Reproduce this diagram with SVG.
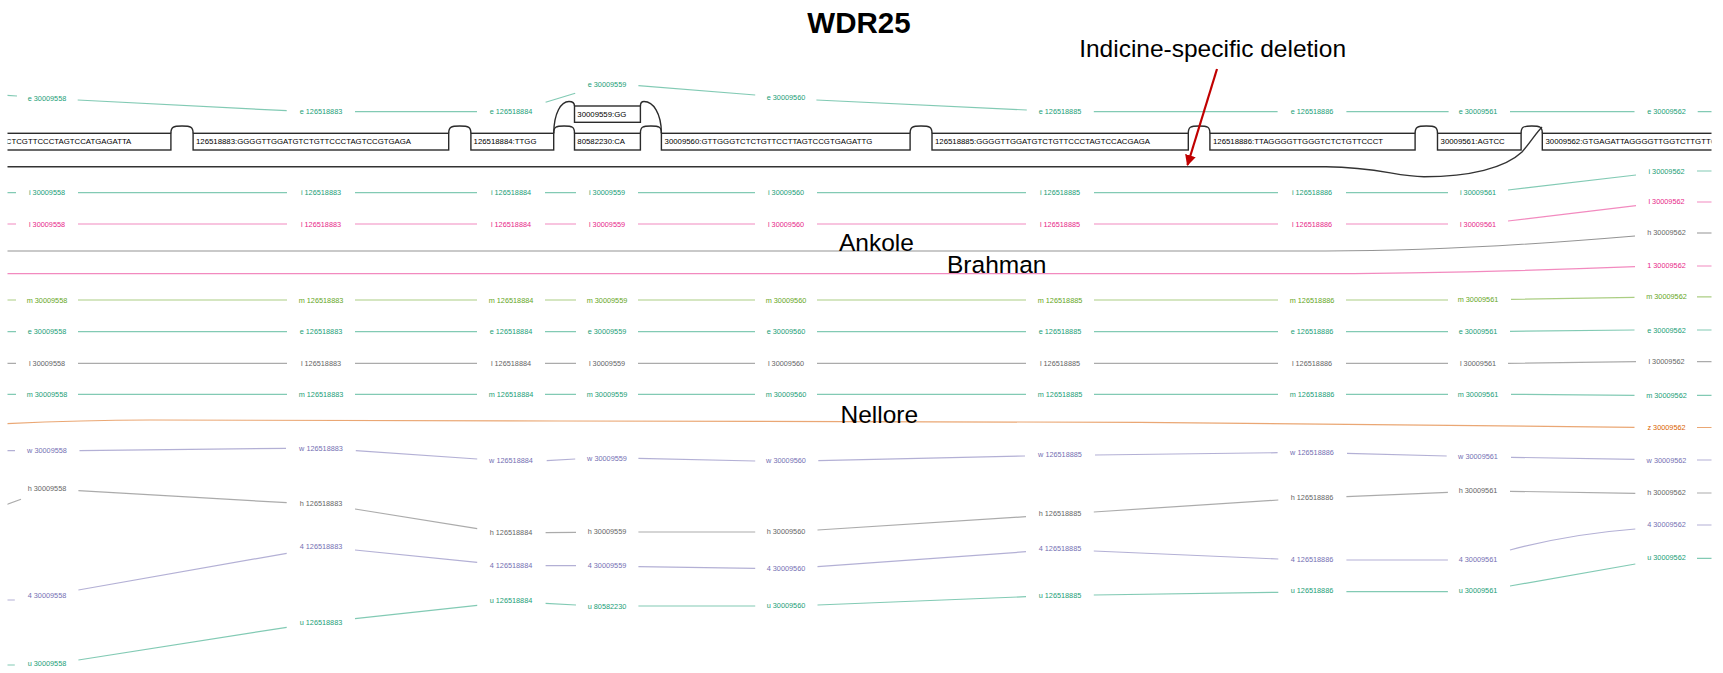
<svg xmlns="http://www.w3.org/2000/svg" width="1723" height="673" viewBox="0 0 1723 673">
<style>
.lb{font-family:"Liberation Sans",Arial,sans-serif;font-size:7.3px;text-anchor:middle}
.sq{font-family:"Liberation Sans",Arial,sans-serif;font-size:7.8px;fill:#000}
.box{fill:#fff;stroke:#2b2b2b;stroke-width:1.4}
.bump{fill:none;stroke:#2b2b2b;stroke-width:1.4}
.trk{fill:none;stroke-width:1.2;stroke-opacity:0.55}
.big{font-family:"Liberation Sans",Arial,sans-serif;font-size:24.5px;fill:#000}
.teal{fill:#1b9e77}.pink{fill:#e7298a}.gray{fill:#666}.olive{fill:#66a61e}.orange{fill:#d95f02}.purple{fill:#7570b3}
.sTeal{stroke:#1b9e77}.sPink{stroke:#e7298a}.sGray{stroke:#666}.sOlive{stroke:#66a61e}.sOrange{stroke:#d95f02}.sPurple{stroke:#7570b3}
</style>
<defs>
<clipPath id="cp"><rect x="7.5" y="0" width="1704" height="673"/></clipPath>
<marker id="ah" viewBox="0 0 10 10" refX="9" refY="5" markerWidth="5" markerHeight="5" orient="auto"><path d="M0 0 L10 5 L0 10 z" fill="#c00000"/></marker>
</defs>
<rect width="1723" height="673" fill="#fff"/>
<g id="title"><text x="859" y="32.5" font-family="Liberation Sans, Arial, sans-serif" font-size="29.5" font-weight="bold" text-anchor="middle">WDR25</text></g>
<g clip-path="url(#cp)">
<g id="connectors">
<path class="trk sTeal" d="M0 94.8 L17 96 M77.7 100 L286.7 110.7 M355 111.7 H477 M545.6 102.3 L575.2 93.3 M638.4 85.7 L755.2 95 M816.4 100 L1026.8 110 M1093.8 111.7 H1277.6 M1346.4 111.7 H1448.6 M1510 111.7 H1634.5 M1697.7 111.7 H1725"/>
<path d="M0 166.7 H1326 C1380 167 1395 176.7 1424 176.7 C1470 176.7 1505 168 1522 152 C1530 143 1536 133 1542 127" fill="none" stroke="#333" stroke-width="1.4"/>
<path class="trk sTeal" d="M0 192.7 H16 M78 192.7 H287 M355 192.7 H477 M545 192.7 H576 M638 192.7 H755 M817 192.7 H1026 M1094 192.7 H1278 M1346 192.7 H1448 M1508 190 L1636 175 M1697 171 H1725"/>
<path class="trk sPink" d="M0 224 H16 M78 224 H287 M355 224 H477 M545 224 H576 M638 224 H755 M817 224 H1026 M1094 224 H1278 M1346 224 H1448 M1508 221 L1636 205.7 M1697 202 H1725"/>
<path class="trk sGray" style="stroke-opacity:0.7;stroke-width:1.1" d="M0 251 H1326 C1420 251 1540 244 1635 236 M1697 233 H1725"/>
<path class="trk sPink" d="M0 273.7 H1300 C1420 273.7 1550 270 1635 266.7 M1697 266 H1725"/>
<path class="trk sOlive" d="M0 300 H16 M78 300 H287 M355 300 H477 M545 300 H576 M638 300 H755 M817 300 H1026 M1094 300 H1278 M1346 300 H1448 M1511 299.3 L1634.5 297.3 M1697 296.8 H1725"/>
<path class="trk sTeal" d="M0 331.7 H16 M78 331.7 H287 M355 331.7 H477 M545 331.7 H576 M638 331.7 H755 M817 331.7 H1026 M1094 331.7 H1278 M1346 331.7 H1448 M1510 331.3 L1634.5 330 M1697 330 H1725"/>
<path class="trk sGray" d="M0 363.3 H16 M78 363.3 H287 M355 363.3 H477 M545 363.3 H576 M638 363.3 H755 M817 363.3 H1026 M1094 363.3 H1278 M1346 363.3 H1448 M1508 363.3 L1636 361.7 M1697 361.7 H1725"/>
<path class="trk sTeal" d="M0 394.3 H16 M78 394.3 H287 M355 394.3 H477 M545 394.3 H576 M638 394.3 H755 M817 394.3 H1026 M1094 394.3 H1278 M1346 394.3 H1448 M1511 394.3 L1634.5 395.3 M1697 395.3 H1725"/>
<path class="trk sOrange" d="M0 424 C40 422 80 420 150 420 L560 421 L1140 422.3 L1634.5 427.3 M1697 427.5 H1725"/>
<path class="trk sPurple" d="M0 450.7 H15 M79.5 450.7 L286 448.3 M355.8 450.7 L477.2 459 M546.7 460.7 L575.2 459 M638.4 458.3 L755.2 461 M818.3 460.7 L1025 456 M1095 455 L1277.6 452.7 M1347 453.3 L1446.7 456 M1511 457.3 L1634.5 459.3 M1697 460 H1725"/>
<path class="trk sGray" d="M0 507 L21 499.3 M78.4 490.7 L286.7 502.7 M355 509 L477.2 528.7 M545.6 532.7 L576 532.3 M638.4 532 L755.2 532 M817.5 530 L1026 516.7 M1093.8 512 L1278.3 500 M1346.4 496.7 L1447.9 492.3 M1510 491.3 L1635.3 493.3 M1697 493 H1725"/>
<path class="trk sPurple" d="M0 600 H14.8 M78.4 590 L286.7 553.3 M355 550 L477.2 562.3 M545.6 565.7 L576 565.7 M638.4 566.7 L755.2 568.3 M817.5 566.7 L1026 551.7 M1093.8 551 L1278.3 559 M1346.4 560 L1447.9 560 M1510 550 Q1570 534 1635.3 529 M1697 525 H1725"/>
<path class="trk sTeal" d="M0 665 H14.8 M78.4 660 L286.7 627.3 M355 618.7 L477.2 605.3 M545.6 603.3 L576 605 M638.4 606 L755.2 606 M817.5 605 L1026 596.7 M1093.8 595 L1278.3 592.3 M1346.4 591.7 L1447.9 591.7 M1510 586 L1635.3 564 M1697 558.3 H1725"/>
</g>
<g id="bumps">
<path class="bump" d="M170.9 133.3 C170.9 127 172.9 126 182 126 C191.1 126 193.1 127 193.1 133.3"/>
<path class="bump" d="M448.7 133.3 C448.7 127 450.7 126 459.8 126 C468.9 126 470.9 127 470.9 133.3"/>
<path class="bump" d="M553.7 133.3 C553.7 127 555.7 126 564.1 126 C572.5 126 574.5 127 574.5 133.3"/>
<path class="bump" d="M640.4 133.3 C640.4 127 642.4 126 650.9 126 C659.4 126 661.4 127 661.4 133.3"/>
<path class="bump" d="M910.1 133.3 C910.1 127 912.1 126 921 126 C930 126 932 127 932 133.3"/>
<path class="bump" d="M1188.3 133.3 C1188.3 127 1190.3 126 1199.1 126 C1207.9 126 1209.9 127 1209.9 133.3"/>
<path class="bump" d="M1415.1 133.3 C1415.1 127 1417.1 126 1426.3 126 C1435.5 126 1437.5 127 1437.5 133.3"/>
<path class="bump" d="M1521.1 133.3 C1521.1 127 1523.1 126 1531.7 126 C1540.3 126 1542.3 127 1542.3 133.3"/>
<path class="bump" d="M553.7 133.3 C554 113 561 101.5 569 101.5 C572.5 101.5 574.5 103 574.5 106"/>
<path class="bump" d="M640.4 106 C640.4 103 641 101.5 644 101.5 C653 101.5 661.4 113 661.4 133.3"/>
</g>
<g id="node-seqA"><rect class="box" x="-20" y="133.3" width="190.9" height="16.7"/><text class="sq" x="131.3" y="144.4" text-anchor="end">CTCGTTCCCTAGTCCATGAGATTA</text></g>
<g id="node-seqB"><rect class="box" x="193.1" y="133.3" width="255.6" height="16.7"/><text class="sq" x="196" y="144.4">126518883:GGGGTTGGATGTCTGTTCCCTAGTCCGTGAGA</text></g>
<g id="node-seqC"><rect class="box" x="470.9" y="133.3" width="82.8" height="16.7"/><text class="sq" x="473.6" y="144.4">126518884:TTGG</text></g>
<g id="node-seqD"><rect class="box" x="574.5" y="133.3" width="65.9" height="16.7"/><text class="sq" x="577.3" y="144.4">80582230:CA</text></g>
<g id="node-seqE"><rect class="box" x="574.5" y="106" width="65.9" height="16.3"/><text class="sq" x="577.3" y="116.9">30009559:GG</text></g>
<g id="node-seqF"><rect class="box" x="661.4" y="133.3" width="248.7" height="16.7"/><text class="sq" x="664.6" y="144.4">30009560:GTTGGGTCTCTGTTCCTTAGTCCGTGAGATTG</text></g>
<g id="node-seqG"><rect class="box" x="932" y="133.3" width="256.3" height="16.7"/><text class="sq" x="935" y="144.4">126518885:GGGGTTGGATGTCTGTTCCCTAGTCCACGAGA</text></g>
<g id="node-seqH"><rect class="box" x="1209.9" y="133.3" width="205.2" height="16.7"/><text class="sq" x="1213" y="144.4">126518886:TTAGGGGTTGGGTCTCTGTTCCCT</text></g>
<g id="node-seqI"><rect class="box" x="1437.5" y="133.3" width="83.6" height="16.7"/><text class="sq" x="1440.6" y="144.4">30009561:AGTCC</text></g>
<g id="node-seqJ"><rect class="box" x="1542.3" y="133.3" width="200" height="16.7"/><text class="sq" x="1545.5" y="144.4">30009562:GTGAGATTAGGGGTTGGTCTTGTTCC</text></g>
</g>
<g id="labels">
<g id="row-e-top" class="lb teal">
<text x="47" y="100.9">e 30009558</text><text x="321" y="114.3">e 126518883</text><text x="511" y="114.3">e 126518884</text><text x="607" y="86.6">e 30009559</text><text x="786" y="100.3">e 30009560</text><text x="1060" y="114.3">e 126518885</text><text x="1312" y="114.3">e 126518886</text><text x="1478" y="114.3">e 30009561</text><text x="1666.5" y="114.3">e 30009562</text>
</g>
<g id="row-i" class="lb teal">
<text x="47" y="195.3">i 30009558</text><text x="321" y="195.3">i 126518883</text><text x="511" y="195.3">i 126518884</text><text x="607" y="195.3">i 30009559</text><text x="786" y="195.3">i 30009560</text><text x="1060" y="195.3">i 126518885</text><text x="1312" y="195.3">i 126518886</text><text x="1478" y="195.3">i 30009561</text><text x="1666.5" y="173.6">i 30009562</text>
</g>
<g id="row-l-pink" class="lb pink">
<text x="47" y="226.6">l 30009558</text><text x="321" y="226.6">l 126518883</text><text x="511" y="226.6">l 126518884</text><text x="607" y="226.6">l 30009559</text><text x="786" y="226.6">l 30009560</text><text x="1060" y="226.6">l 126518885</text><text x="1312" y="226.6">l 126518886</text><text x="1478" y="226.6">l 30009561</text><text x="1666.5" y="204.3">l 30009562</text>
</g>
<g id="node-h-ankole" class="lb gray"><text x="1666.5" y="234.9">h 30009562</text></g>
<g id="node-1-brahman" class="lb pink"><text x="1666.5" y="267.6">1 30009562</text></g>
<g id="row-m-olive" class="lb olive">
<text x="47" y="302.6">m 30009558</text><text x="321" y="302.6">m 126518883</text><text x="511" y="302.6">m 126518884</text><text x="607" y="302.6">m 30009559</text><text x="786" y="302.6">m 30009560</text><text x="1060" y="302.6">m 126518885</text><text x="1312" y="302.6">m 126518886</text><text x="1478" y="301.9">m 30009561</text><text x="1666.5" y="299.3">m 30009562</text>
</g>
<g id="row-e" class="lb teal">
<text x="47" y="334.3">e 30009558</text><text x="321" y="334.3">e 126518883</text><text x="511" y="334.3">e 126518884</text><text x="607" y="334.3">e 30009559</text><text x="786" y="334.3">e 30009560</text><text x="1060" y="334.3">e 126518885</text><text x="1312" y="334.3">e 126518886</text><text x="1478" y="333.9">e 30009561</text><text x="1666.5" y="332.6">e 30009562</text>
</g>
<g id="row-l-gray" class="lb gray">
<text x="47" y="365.9">l 30009558</text><text x="321" y="365.9">l 126518883</text><text x="511" y="365.9">l 126518884</text><text x="607" y="365.9">l 30009559</text><text x="786" y="365.9">l 30009560</text><text x="1060" y="365.9">l 126518885</text><text x="1312" y="365.9">l 126518886</text><text x="1478" y="365.9">l 30009561</text><text x="1666.5" y="364.3">l 30009562</text>
</g>
<g id="row-m-teal" class="lb teal">
<text x="47" y="396.9">m 30009558</text><text x="321" y="396.9">m 126518883</text><text x="511" y="396.9">m 126518884</text><text x="607" y="396.9">m 30009559</text><text x="786" y="396.9">m 30009560</text><text x="1060" y="396.9">m 126518885</text><text x="1312" y="396.9">m 126518886</text><text x="1478" y="396.9">m 30009561</text><text x="1666.5" y="397.9">m 30009562</text>
</g>
<g id="node-z-nellore" class="lb orange"><text x="1666.5" y="429.9">z 30009562</text></g>
<g id="row-w" class="lb purple">
<text x="47" y="453.3">w 30009558</text><text x="321" y="450.9">w 126518883</text><text x="511" y="463.3">w 126518884</text><text x="607" y="460.9">w 30009559</text><text x="786" y="463.3">w 30009560</text><text x="1060" y="456.9">w 126518885</text><text x="1312" y="454.9">w 126518886</text><text x="1478" y="458.6">w 30009561</text><text x="1666.5" y="462.6">w 30009562</text>
</g>
<g id="row-h" class="lb gray">
<text x="47" y="490.9">h 30009558</text><text x="321" y="505.9">h 126518883</text><text x="511" y="535.3">h 126518884</text><text x="607" y="533.6">h 30009559</text><text x="786" y="533.6">h 30009560</text><text x="1060" y="515.6">h 126518885</text><text x="1312" y="499.9">h 126518886</text><text x="1478" y="492.6">h 30009561</text><text x="1666.5" y="495.3">h 30009562</text>
</g>
<g id="row-4" class="lb purple">
<text x="47" y="597.6">4 30009558</text><text x="321" y="548.9">4 126518883</text><text x="511" y="567.6">4 126518884</text><text x="607" y="567.6">4 30009559</text><text x="786" y="570.9">4 30009560</text><text x="1060" y="551.3">4 126518885</text><text x="1312" y="561.9">4 126518886</text><text x="1478" y="561.9">4 30009561</text><text x="1666.5" y="526.9">4 30009562</text>
</g>
<g id="row-u" class="lb teal">
<text x="47" y="665.9">u 30009558</text><text x="321" y="624.6">u 126518883</text><text x="511" y="603.3">u 126518884</text><text x="607" y="608.6">u 80582230</text><text x="786" y="608.3">u 30009560</text><text x="1060" y="597.6">u 126518885</text><text x="1312" y="593.3">u 126518886</text><text x="1478" y="592.6">u 30009561</text><text x="1666.5" y="560.3">u 30009562</text>
</g>
</g>
<g id="group-labels">
<text class="big" x="839" y="251">Ankole</text>
<text class="big" x="947" y="272.5">Brahman</text>
<text class="big" x="840.5" y="423">Nellore</text>
</g>
<g id="annotation">
<text class="big" x="1212.6" y="57" text-anchor="middle">Indicine-specific deletion</text>
<line x1="1217" y1="69" x2="1187.5" y2="165" stroke="#c00000" stroke-width="2.2" marker-end="url(#ah)"/>
</g>
</svg>
